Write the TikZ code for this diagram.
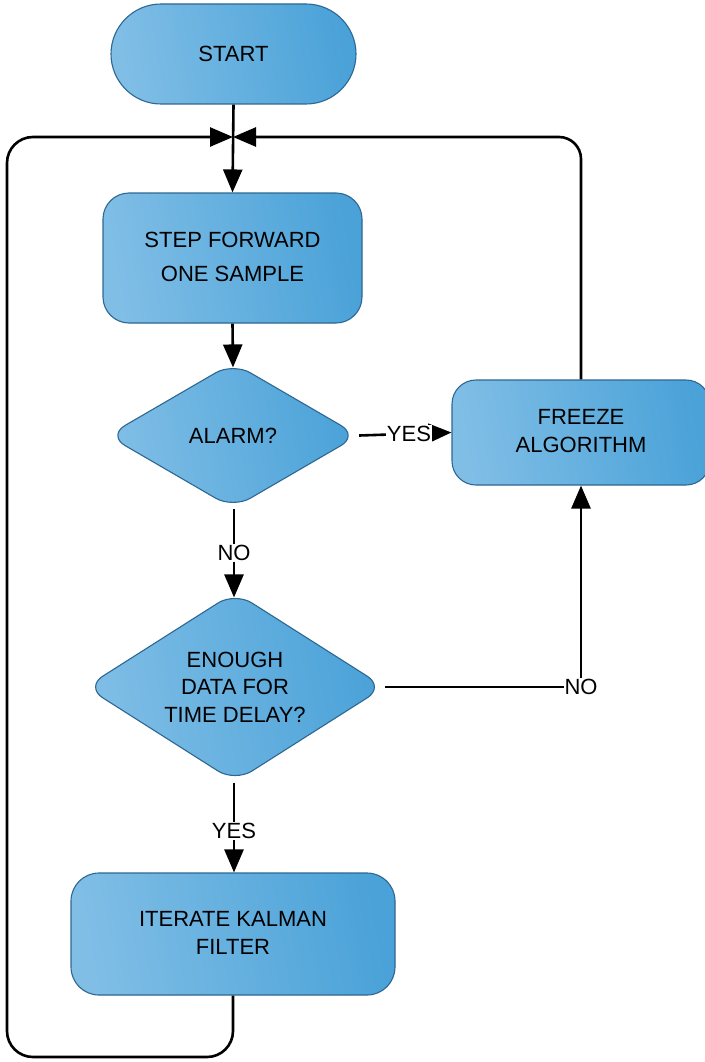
\documentclass[tikz,border=0pt]{standalone}
\usepackage{fontspec}
\setmainfont{Liberation Sans}
\usetikzlibrary{arrows.meta,shapes.geometric}
\definecolor{fillL}{HTML}{80BEE6}
\definecolor{fillR}{HTML}{4AA2D8}
\definecolor{edgeC}{HTML}{2D6792}
\tikzset{
  flowbox/.style={draw=edgeC, line width=1.1pt, left color=fillL, right color=fillR,
    shading angle=100, align=center, inner sep=0pt,
    font=\fontsize{22}{27.5}\selectfont},
  procbox/.style={flowbox, rectangle, rounded corners=26pt},
  termbox/.style={flowbox, rectangle, rounded corners=50pt},
  decbox/.style={flowbox, diamond, aspect=1.6, rounded corners=20pt},
  link/.style={line width=2.6pt, -{Triangle[length=23pt,width=19pt]}},
  lbl/.style={fill=white, inner sep=1pt, font=\fontsize{22}{24}\selectfont}
}
\begin{document}
\begin{tikzpicture}[x=1pt,y=-1pt]
\useasboundingbox (0,0) rectangle (704,1062);
\fill[white] (0,0) rectangle (704,1062);

% flowchart blocks
\node[termbox, minimum width=245pt, minimum height=100pt] (start) at (233.5,54) {START};
\node[procbox, minimum width=259pt, minimum height=130pt] (step) at (232.5,258)
  {\raisebox{3pt}{STEP FORWARD}\\[6.5pt]\raisebox{3pt}{ONE SAMPLE}};
\node[decbox, minimum width=251pt, minimum height=146pt] (alarm) at (233,435.5) {ALARM?};
\node[procbox, rounded corners=24pt, minimum width=258pt, minimum height=105pt] (freeze) at (581,432.5)
  {\raisebox{3pt}{FREEZE}\\\raisebox{3pt}{ALGORITHM}};
\node[decbox, minimum width=299pt, minimum height=190pt] (enough) at (235,687)
  {ENOUGH\\DATA FOR\\TIME DELAY?};
\node[procbox, rounded corners=28pt, minimum width=324pt, minimum height=122pt] (iterate) at (233,934)
  {\raisebox{2pt}{ITERATE KALMAN}\\\raisebox{2pt}{FILTER}};

% junction above the first step
\coordinate (merge) at (233,137);
\coordinate (loopend) at (233,1057);

% connectors
\draw[link] (start.south) -- (step.north);
\draw[link, rounded corners=26pt] (iterate.south) -- (loopend) -- (7,1057) -- (7,137) -- (merge);
\draw[link, rounded corners=22pt] (freeze.north) |- (merge);
\draw[link] (step.south) -- ([yshift=-5.5pt]alarm.north);
\draw[link] (alarm.east) -- node[lbl, pos=0.54] {YES} (freeze.west);
\draw[link] ([xshift=1pt]alarm.south) -- node[lbl, pos=0.5] {NO}
  ([xshift=1pt,yshift=-6pt]alarm.south |- enough.north);
\draw[link] (enough.east) -- (enough.east -| freeze.south) node[lbl] {NO} -- (freeze.south);
\draw[link] ([xshift=-1pt]enough.south) -- node[lbl, pos=0.54] {YES}
  ([xshift=-1pt]enough.south |- iterate.north);
\end{tikzpicture}
\end{document}
